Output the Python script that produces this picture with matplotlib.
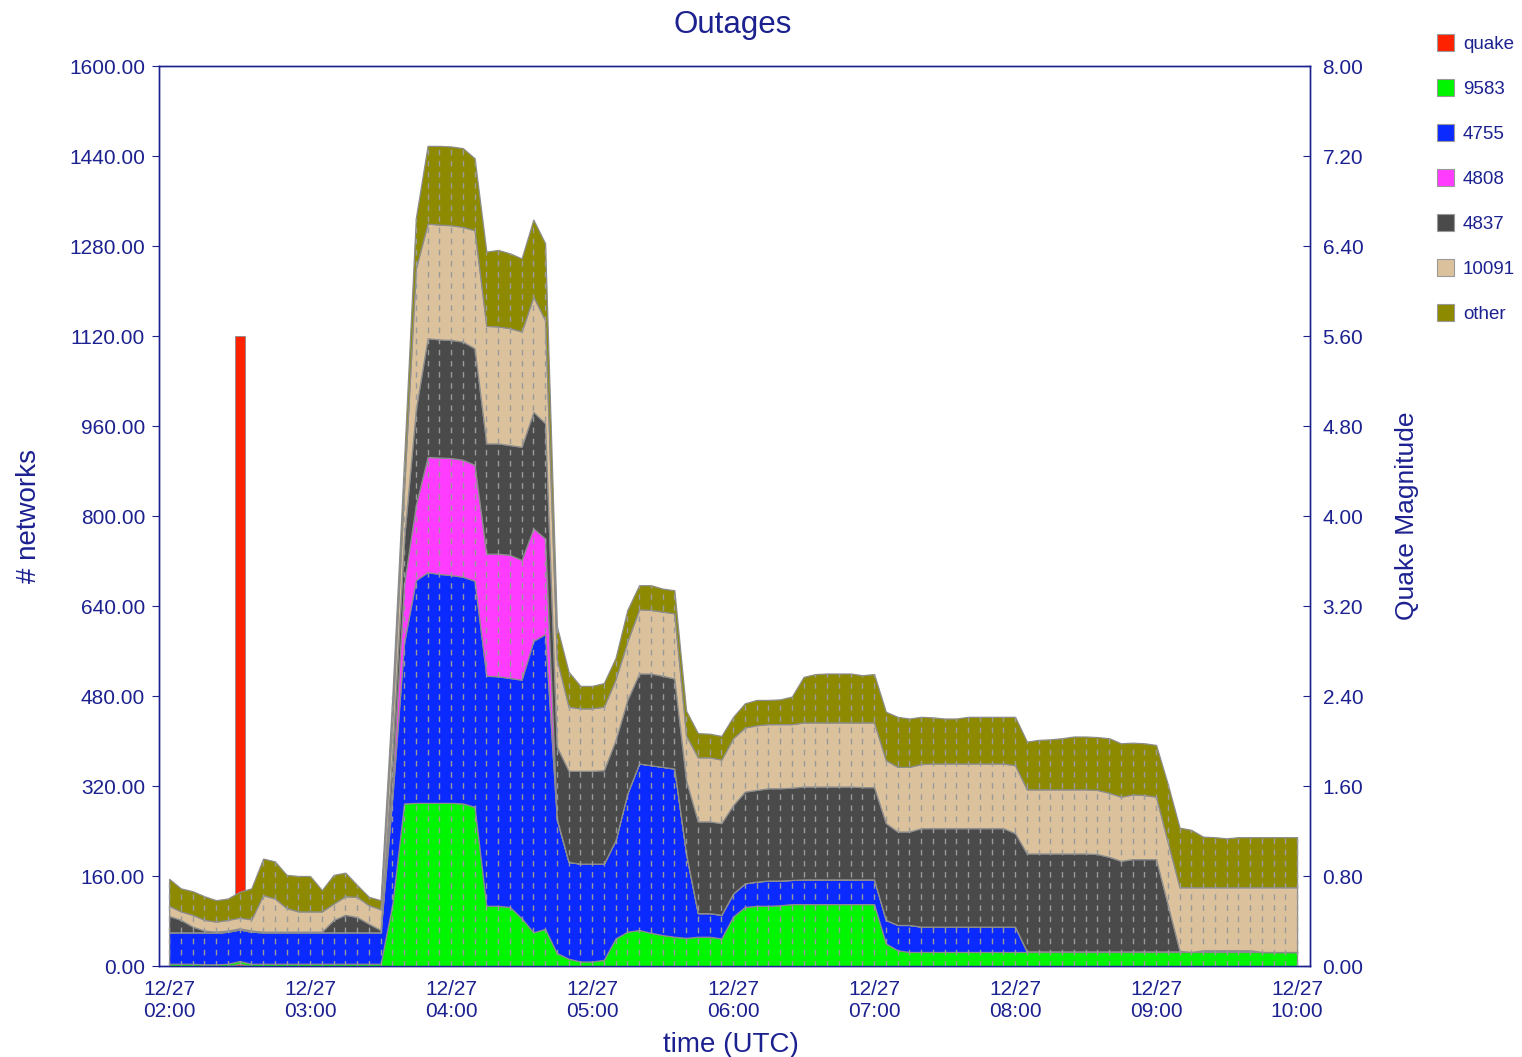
import numpy as np
import pandas as pd
import matplotlib
matplotlib.use('Agg')
import matplotlib.pyplot as plt
import matplotlib.dates as mdates
from matplotlib.patches import Patch

plt.rcParams['font.family'] = ['Liberation Sans', 'DejaVu Sans']

# ---------------- data ----------------
start_time = '2006-12-27 02:00'
n_points = 97            # 5-minute samples 02:00 .. 10:00
quake_time = '2006-12-27 02:30'
quake_mag = 5.6

s_quake = [0, 0, 0, 0, 0, 0, 4, 0, 0, 0, 0, 0, 0, 0, 0, 0, 0, 0, 0,
           0, 0, 0, 0, 0, 0, 0, 0, 0, 0, 0, 0, 0, 0,
           0, 0, 0, 0, 0, 0, 0, 0, 0, 0, 0,
           0, 0, 0, 0, 0, 0, 0, 0, 0, 0, 0, 0, 0, 0, 0, 0, 0,
           0, 0, 0, 0, 0, 0, 0, 0, 0, 0, 0, 0,
           0, 0, 0, 0, 0, 0, 0, 0, 0, 0, 0, 0, 0, 0, 0, 0, 0, 0, 0, 0, 0, 0, 0, 0]

s_9583 = [4, 4, 4, 3, 3, 4, 5, 4, 4, 4, 4, 4, 4, 4, 4, 4, 4, 4, 4,
          110, 289, 290, 290, 290, 290, 289, 283, 107, 107, 105, 85, 60, 66,
          23, 13, 8, 8, 11, 49, 61, 64, 59, 55, 52,
          50, 52, 52, 49, 88, 105, 107, 107, 108, 110, 110, 110, 110, 110, 110, 110, 110,
          40, 28, 25, 25, 25, 25, 25, 25, 25, 25, 25, 25,
          25, 25, 25, 25, 25, 25, 25, 25, 25, 25, 25, 25, 25, 25, 25, 25, 25, 25, 25, 25, 25, 25, 25, 25]

s_4755 = [56, 56, 56, 57, 56, 57, 56, 57, 56, 56, 56, 56, 56, 56, 56, 56, 56, 56, 56,
          190, 286, 396, 410, 407, 405, 403, 402, 409, 408, 407, 424, 518, 524,
          237, 172, 174, 174, 171, 175, 246, 296, 298, 299, 299,
          150, 42, 42, 42, 41, 42, 43, 45, 44, 43, 44, 44, 44, 44, 44, 44, 44,
          42, 45, 48, 45, 45, 45, 45, 45, 45, 45, 45, 45,
          1, 1, 1, 1, 1, 1, 1, 1, 1, 1, 1, 1, 1, 1, 0, 3, 3, 3, 3, 3, 0, 0, 0, 0]

s_4808 = [0, 0, 0, 0, 0, 0, 0, 0, 0, 0, 0, 0, 0, 0, 0, 0, 0, 0, 0,
          30, 105, 134, 205, 207, 208, 208, 206, 217, 218, 219, 213, 200, 170,
          2, 0, 0, 0, 0, 0, 0, 0, 0, 0, 0,
          0, 0, 0, 0, 0, 0, 0, 0, 0, 0, 0, 0, 0, 0, 0, 0, 0,
          0, 0, 0, 0, 0, 0, 0, 0, 0, 0, 0, 0,
          0, 0, 0, 0, 0, 0, 0, 0, 0, 0, 0, 0, 0, 0, 0, 0, 0, 0, 0, 0, 0, 0, 0, 0]

s_4837 = [29, 22, 10, 3, 2, 2, 2, 2, 1, 1, 1, 1, 1, 1, 22, 31, 27, 15, 4,
          50, 80, 170, 211, 210, 210, 210, 207, 196, 196, 195, 201, 207, 205,
          128, 162, 165, 165, 166, 178, 166, 160, 163, 162, 160,
          130, 163, 163, 163, 157, 163, 163, 164, 164, 164, 165, 165, 165, 165, 165, 164, 164,
          172, 166, 166, 175, 175, 175, 175, 175, 175, 175, 175, 166,
          174, 174, 174, 174, 174, 174, 173, 168, 161, 164, 164, 164, 82, 1, 0, 0, 0, 0, 0, 0, 0, 0, 0, 0]

s_10091 = [18, 15, 21, 19, 18, 19, 19, 20, 65, 59, 42, 36, 36, 36, 29, 33, 36, 33, 37,
           60, 90, 250, 204, 204, 204, 204, 210, 209, 208, 208, 205, 205, 183,
           155, 114, 111, 111, 113, 108, 104, 114, 113, 114, 116,
           80, 114, 114, 113, 119, 114, 115, 114, 114, 113, 114, 114, 114, 114, 114, 115, 115,
           112, 115, 115, 114, 115, 115, 115, 115, 115, 115, 115, 121,
           114, 114, 114, 114, 114, 114, 114, 114, 114, 115, 114, 111, 112, 113, 115, 112, 112, 112, 112, 112, 115, 115, 115, 115]

s_other = [48, 41, 42, 42, 38, 38, 46, 55, 65, 66, 59, 63, 63, 38, 51, 42, 21, 15, 16,
           40, 50, 90, 138, 140, 140, 140, 128, 132, 136, 133, 130, 137, 137,
           59, 62, 40, 40, 42, 38, 56, 43, 44, 41, 41,
           44, 43, 42, 42, 38, 43, 45, 43, 44, 49, 81, 86, 87, 87, 87, 84, 86,
           86, 89, 86, 84, 82, 80, 80, 83, 83, 83, 83, 86,
           85, 88, 89, 91, 94, 94, 94, 97, 95, 92, 92, 92, 103, 106, 102, 90, 89, 87, 89, 89, 89, 89, 89, 89]

series_names = ['quake', '9583', '4755', '4808', '4837', '10091', 'other']
series_colors = ['#ff2200', '#00f500', '#0a2aff', '#ff3cff', '#4a4a4a', '#dbc29c', '#8e8a00']
left_ticks = [0, 160, 320, 480, 640, 800, 960, 1120, 1280, 1440, 1600]
right_ticks = [0.0, 0.8, 1.6, 2.4, 3.2, 4.0, 4.8, 5.6, 6.4, 7.2, 8.0]

# ---------------- plot ----------------
navy = '#1c2190'
times = pd.date_range(start_time, periods=n_points, freq='5min')
series = [s_quake, s_9583, s_4755, s_4808, s_4837, s_10091, s_other]

fig = plt.figure(figsize=(15.22, 10.57), dpi=100)
ax = fig.add_axes([159 / 1522, 1 - 966 / 1057, 1151 / 1522, 900 / 1057])
ax2 = ax.twinx()
ax.set_zorder(ax2.get_zorder() + 1)
ax.patch.set_visible(False)

# quake magnitude bar (right axis), behind the stacked areas
ax2.bar(pd.Timestamp(quake_time), quake_mag, width=4.3 / 1440, color=series_colors[0],
        edgecolor='#8a8a8a', linewidth=0.6, align='center')
ax2.set_ylim(0, 8)
ax2.set_yticks(right_ticks)
ax2.set_yticklabels(['%.2f' % v for v in right_ticks])

ax.stackplot(times, *series, colors=series_colors, edgecolor='#8c8c8c', linewidth=0.9)
totals = np.sum(np.array(series, dtype=float), axis=0)
ax.vlines(times, 0, totals, colors='#9a9a9a', linestyles=(0, (4, 4)), linewidth=1.0)

ax.set_xlim(times[0] - pd.Timedelta(minutes=4.3), times[-1] + pd.Timedelta(minutes=5.5))
ax.set_ylim(0, 1600)
ax.set_yticks(left_ticks)
ax.set_yticklabels(['%.2f' % v for v in left_ticks])
hour_ticks = pd.date_range(start_time, periods=9, freq='h')
ax.set_xticks(hour_ticks)
ax.xaxis.set_major_formatter(mdates.DateFormatter('%m/%d\n%H:%M'))

for a in (ax, ax2):
    for sp in a.spines.values():
        sp.set_color(navy)
        sp.set_linewidth(1.0)

ax.tick_params(axis='y', colors=navy, labelcolor=navy, labelsize=15, length=5, pad=5, direction='out')
ax.tick_params(axis='x', colors=navy, labelcolor=navy, labelsize=15, length=0, pad=10)
ax2.tick_params(axis='y', colors=navy, labelcolor=navy, labelsize=15, length=5, pad=9, direction='in')
for lbl in ax.get_xticklabels():
    lbl.set_linespacing(1.2)

ax.set_ylabel('# networks', color=navy, fontsize=20)
ax.yaxis.set_label_coords(-0.1017, 0.5)
ax2.set_ylabel('Quake Magnitude', color=navy, fontsize=19)
ax2.yaxis.set_label_coords(1.074, 0.5)
ax.set_xlabel('time (UTC)', color=navy, fontsize=20)
ax.xaxis.set_label_coords(0.497, -0.0735)
fig.text(733 / 1522, 1 - 25 / 1057, 'Outages', ha='center', va='center', fontsize=22.5, color=navy)

handles = [Patch(facecolor=c, edgecolor='#9a9a9a', linewidth=0.8) for c in series_colors]
fig.legend(handles, series_names, loc='upper left', bbox_to_anchor=(1433 / 1522, 1 - 30 / 1057),
           frameon=False, fontsize=13.5, labelspacing=1.4, handlelength=0.9, handleheight=1.0,
           handletextpad=0.5, labelcolor=navy, borderaxespad=0, borderpad=0.2)

fig.savefig('out.png', dpi=100, facecolor='white')
